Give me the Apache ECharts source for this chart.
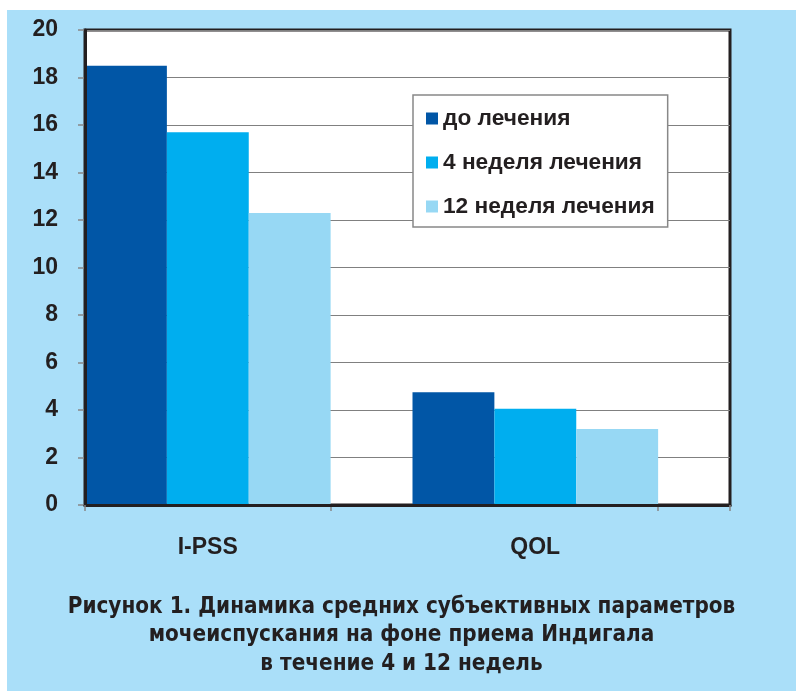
<!DOCTYPE html>
<html>
<head>
<meta charset="utf-8">
<script src="https://cdn.jsdelivr.net/npm/echarts@6/dist/echarts.min.js"></script>
<style>
html,body{margin:0;padding:0;background:#fff;}
#chart{position:absolute;left:7px;top:10px;width:789px;height:681px;}
</style>
</head>
<body>
<div id="chart"></div>
<script>
const categories = ['I-PSS', 'QOL'];
const seriesNames = ['до лечения', '4 неделя лечения', '12 неделя лечения'];
const beforeTreatment = [18.5, 4.75];
const week4 = [15.7, 4.05];
const week12 = [12.3, 3.2];
const yTicks = [0, 20, 2]; // min, max, interval
const captionLines = [
  'Рисунок 1. Динамика средних субъективных параметров',
  'мочеиспускания на фоне приема Индигала',
  'в течение 4 и 12 недель'
];

const colors = ['#0156a6', '#00aeef', '#97d8f4'];
const dark = '#231f20';
const captionFont = {
  fontFamily: '"DejaVu Sans Condensed", "Liberation Sans Narrow", sans-serif',
  fontWeight: 'bold',
  fontSize: 22.3,
  color: dark
};
const chart = echarts.init(document.getElementById('chart'));

chart.setOption({
  backgroundColor: '#aadff9',
  animation: false,
  title: captionLines.map((t, i) => ({
    text: t,
    left: 'center',
    top: 586 + i * 28.5,
    padding: 0,
    textStyle: captionFont
  })),
  legend: {
    orient: 'vertical',
    left: 406,
    top: 85,
    backgroundColor: '#fff',
    borderColor: '#888',
    borderWidth: 1.5,
    padding: [12, 13, 9, 13],
    itemWidth: 12,
    itemHeight: 12,
    itemGap: 21,
    icon: 'rect',
    textStyle: {
      fontFamily: '"Liberation Sans", Arial, sans-serif',
      fontWeight: 'bold',
      fontSize: 22.7,
      lineHeight: 20,
      color: dark
    },
    data: seriesNames
  },
  grid: [
    { left: 78, top: 20, right: 66, bottom: 186, show: true, backgroundColor: '#fff', borderColor: dark, borderWidth: 3 },
    { left: 78, top: 20, right: 56, bottom: 186 }
  ],
  xAxis: [
    {
      gridIndex: 0, type: 'category', data: [''], z: 10,
      axisLine: { lineStyle: { color: dark, width: 3 } },
      axisTick: { show: true, length: 6, lineStyle: { color: '#888', width: 1.5 } },
      axisLabel: { show: false }
    },
    {
      gridIndex: 1, type: 'category', data: categories,
      axisLine: { show: false },
      axisTick: { show: false },
      axisLabel: {
        margin: 31,
        padding: [0, 82, 0, 0],
        fontFamily: '"Liberation Sans", Arial, sans-serif',
        fontWeight: 'bold', fontSize: 23, color: dark
      }
    },
    {
      gridIndex: 1, type: 'value', min: 0, max: 8, position: 'bottom',
      axisLine: { show: false, onZero: false },
      axisTick: { show: true, length: 6, customValues: [3, 7], lineStyle: { color: '#888', width: 1.5 } },
      axisLabel: { show: false },
      splitLine: { show: false }
    }
  ],
  yAxis: [
    {
      gridIndex: 0, type: 'value', min: yTicks[0], max: yTicks[1], interval: yTicks[2],
      axisLine: { show: false },
      axisTick: { show: true, length: 7, lineStyle: { color: '#888', width: 1.5 } },
      axisLabel: {
        margin: 27,
        fontFamily: '"Liberation Sans", Arial, sans-serif',
        fontWeight: 'bold', fontSize: 23, color: dark
      },
      splitLine: { lineStyle: { color: '#808080', width: 1.2 } }
    },
    {
      gridIndex: 1, type: 'value', min: yTicks[0], max: yTicks[1], interval: yTicks[2], z: 10,
      axisLine: { show: true, onZero: false, lineStyle: { color: dark, width: 3 } },
      axisTick: { show: false },
      axisLabel: { show: false },
      splitLine: { show: false }
    }
  ],
  series: [
    { name: seriesNames[0], type: 'bar', xAxisIndex: 1, yAxisIndex: 1, data: beforeTreatment, itemStyle: { color: colors[0] }, barGap: 0, barCategoryGap: 0 },
    { name: seriesNames[1], type: 'bar', xAxisIndex: 1, yAxisIndex: 1, data: week4, itemStyle: { color: colors[1] } },
    { name: seriesNames[2], type: 'bar', xAxisIndex: 1, yAxisIndex: 1, data: week12, itemStyle: { color: colors[2] } },
    { name: 'spacer', type: 'bar', xAxisIndex: 1, yAxisIndex: 1, data: [null, null], itemStyle: { color: 'transparent' } }
  ]
});
</script>
</body>
</html>
